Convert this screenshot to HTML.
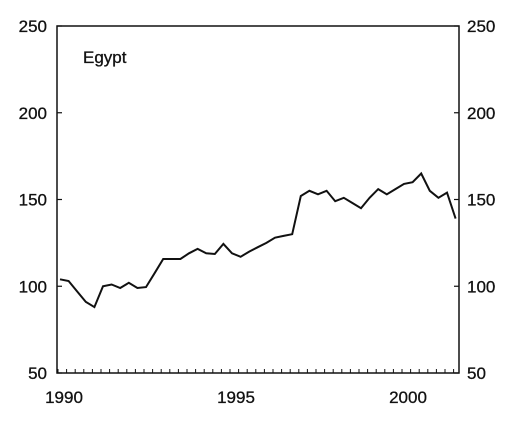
<!DOCTYPE html>
<html><head><meta charset="utf-8"><style>
body{margin:0;background:#fff;}
svg text{font-family:"Liberation Sans",Arial,sans-serif;font-size:17px;fill:#111;stroke:#111;stroke-width:0.3px;}
</style></head><body>
<svg id="chart" width="512" height="421" viewBox="0 0 512 421">
<g id="axes"></g><g id="series"></g>
<text x="83" y="63" style="font-size:17px">Egypt</text>
</svg>
<script>
const values=[104,103,97,91,88,100,101,99,102,99,99.5,107.5,115.7,115.7,115.7,119,121.5,119,118.6,124.4,119,117,120,122.5,125,128,129,130,152,155,153,155,149,151,148,145,151,156,153,156,159,160,165,155,151,154,139];
const yTicks=[50,100,150,200,250];
const xLabels=[1990,1995,2000];
const startYear=1990;
const NS="http://www.w3.org/2000/svg";
const L=57,R=459,B=373,T=26;
function xs(t){return 60+(t-startYear)*34.4;}
function ys(v){return B-(v-50)*(B-T)/200;}
const ax=document.getElementById('axes');
function mk(tag,at,parent){const e=document.createElementNS(NS,tag);for(const k in at)e.setAttribute(k,at[k]);parent.appendChild(e);return e;}
let e;
e=mk('rect',{x:L,y:T,width:R-L,height:B-T,fill:'none',stroke:'#111','stroke-width':1.5},ax);


for(let x=L+1;x<=R;x+=8.6){
 e=mk('line',{x1:x,y1:B,x2:x,y2:B-4,stroke:'#111','stroke-width':1},ax);
 
 
}
yTicks.forEach(v=>{
 const y=ys(v);
 e=mk('line',{x1:L,y1:y,x2:L+5,y2:y,stroke:'#111','stroke-width':1.2},ax);
 
 
 e=mk('line',{x1:R-5,y1:y,x2:R,y2:y,stroke:'#111','stroke-width':1.2},ax);
 
 
 e=mk('text',{x:47,y:y+6,'text-anchor':'end'},ax);e.textContent=v;
 
 
 e=mk('text',{x:R+8,y:y+6,'text-anchor':'start'},ax);e.textContent=v;
 
 
});
xLabels.forEach(yr=>{
 e=mk('text',{x:xs(yr)+4,y:403,'text-anchor':'middle'},ax);e.textContent=yr;
 
 
});
const pts=values.map((v,i)=>xs(startYear+i/4).toFixed(1)+','+ys(v).toFixed(1)).join(' ');
e=mk('polyline',{points:pts,fill:'none',stroke:'#111','stroke-width':2,'stroke-linejoin':'miter'},document.getElementById('series'));


</script>
</body></html>
